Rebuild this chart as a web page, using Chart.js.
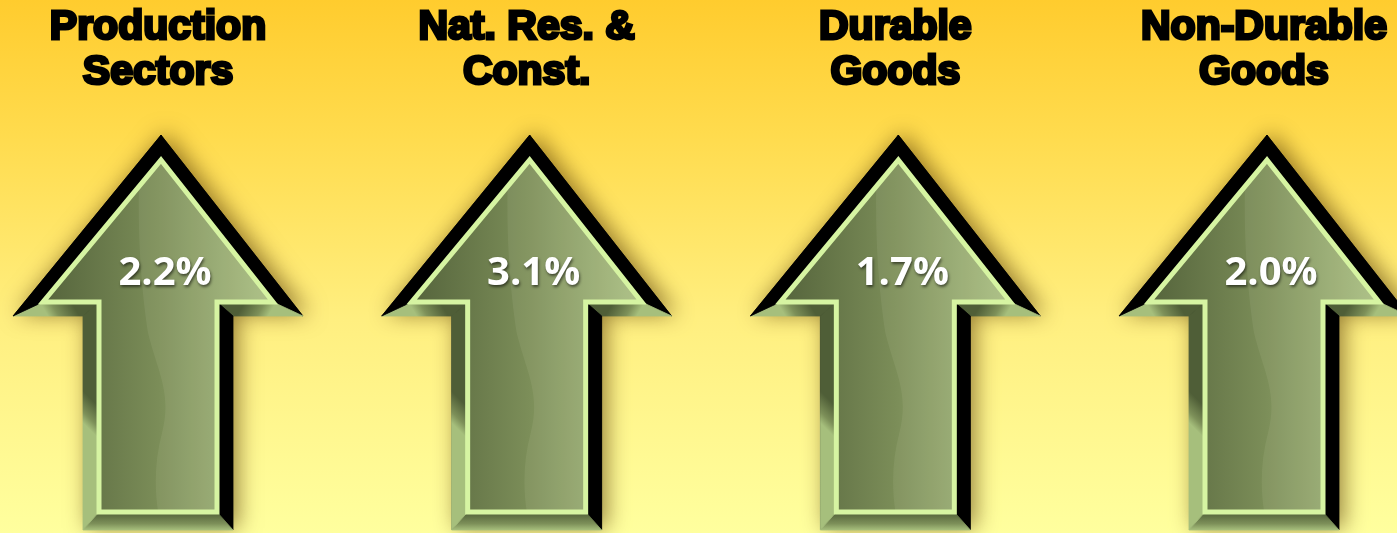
<!DOCTYPE html>
<html lang="en">
<head>
    <meta charset="UTF-8">
    <title>Production sectors</title>
    <style>
        body { margin: 0; background: #ffe066; }
        canvas { display: block; }
    </style>
</head>
<body>
    <canvas id="myChart" width="1397" height="533"></canvas>

    <script src="https://cdn.jsdelivr.net/npm/chart.js@4"></script>
    <script>
        const categories = [
            ['Production', 'Sectors'],
            ['Nat. Res. &', 'Const.'],
            ['Durable', 'Goods'],
            ['Non-Durable', 'Goods']
        ]
        const growth = [2.2, 3.1, 1.7, 2.0]
        const valueLabels = growth.map(v => v.toFixed(1) + '%')

        // arrow outline, points measured up from the bottom of the chart area
        function arrowPoints(cx, tipY, baseY, botY, hw, sw) {
            return [
                [cx + 3, tipY],
                [cx + hw, baseY],
                [cx + sw, baseY],
                [cx + sw, botY],
                [cx - sw, botY],
                [cx - sw, baseY],
                [cx - hw, baseY]
            ]
        }

        function tracePath(ctx, pts) {
            ctx.beginPath()
            ctx.moveTo(pts[0][0], pts[0][1])
            for (let i = 1; i < pts.length; i++) ctx.lineTo(pts[i][0], pts[i][1])
            ctx.closePath()
        }

        // which bevel edges are lit (green) and which are in shade (black)
        const litEdges = [false, true, false, true, true, true, false]

        function drawArrow(ctx, cx, b, label) {
            const outer = arrowPoints(cx, b - 398, b - 217, b - 3, 145, 75)
            const inner = arrowPoints(cx, b - 373, b - 231, b - 21, 115, 59)

            ctx.save()
            ctx.shadowColor = 'rgba(80, 50, 0, 0.6)'
            ctx.shadowBlur = 22
            ctx.shadowOffsetX = 5
            ctx.shadowOffsetY = -2
            tracePath(ctx, outer)
            ctx.fillStyle = '#000'
            ctx.fill()
            ctx.restore()

            for (let i = 0; i < outer.length; i++) {
                const j = (i + 1) % outer.length
                ctx.beginPath()
                ctx.moveTo(outer[i][0], outer[i][1])
                ctx.lineTo(outer[j][0], outer[j][1])
                ctx.lineTo(inner[j][0], inner[j][1])
                ctx.lineTo(inner[i][0], inner[i][1])
                ctx.closePath()
                if (litEdges[i]) {
                    const ox = (outer[i][0] + outer[j][0]) / 2, oy = (outer[i][1] + outer[j][1]) / 2
                    const ix = (inner[i][0] + inner[j][0]) / 2, iy = (inner[i][1] + inner[j][1]) / 2
                    const g = ctx.createLinearGradient(ox, oy, ix, iy)
                    g.addColorStop(0, '#a6bf7c')
                    g.addColorStop(0.35, '#7d9059')
                    g.addColorStop(1, '#4f5e37')
                    ctx.fillStyle = g
                } else {
                    ctx.fillStyle = '#000'
                }
                ctx.fill()
                ctx.strokeStyle = ctx.fillStyle
                ctx.lineWidth = 0.8
                ctx.stroke()
            }

            // face
            const face = ctx.createLinearGradient(cx - 115, 0, cx + 115, 0)
            face.addColorStop(0, '#55643c')
            face.addColorStop(0.5, '#7b8d58')
            face.addColorStop(1, '#aabf83')
            tracePath(ctx, inner)
            ctx.fillStyle = face
            ctx.fill()

            ctx.save()
            tracePath(ctx, inner)
            ctx.clip()
            ctx.beginPath()
            ctx.moveTo(cx - 18, b - 380)
            ctx.bezierCurveTo(cx - 22, b - 300, cx - 16, b - 240, cx - 10, b - 200)
            ctx.bezierCurveTo(cx, b - 160, cx + 14, b - 140, cx + 4, b - 100)
            ctx.bezierCurveTo(cx - 4, b - 70, cx - 4, b - 40, cx + 2, b - 10)
            ctx.lineTo(cx + 200, b - 10)
            ctx.lineTo(cx + 200, b - 380)
            ctx.closePath()
            ctx.fillStyle = 'rgba(255, 255, 230, 0.07)'
            ctx.fill()
            ctx.restore()

            tracePath(ctx, inner)
            ctx.lineJoin = 'miter'
            ctx.lineWidth = 5
            ctx.strokeStyle = '#d6f4a2'
            ctx.stroke()

            ctx.save()
            ctx.font = 'bold 40px "Open Sans"'
            ctx.textAlign = 'center'
            ctx.textBaseline = 'middle'
            ctx.shadowColor = 'rgba(0, 0, 0, 0.55)'
            ctx.shadowBlur = 3
            ctx.shadowOffsetX = 1
            ctx.shadowOffsetY = 2
            ctx.fillStyle = '#fff'
            ctx.fillText(label, cx + 7, b - 259)
            ctx.restore()
        }

        const arrowPlugin = {
            id: 'arrows',
            beforeDraw(chart) {
                const ctx = chart.ctx
                const g = ctx.createLinearGradient(0, 0, 0, chart.height)
                g.addColorStop(0, '#ffcc2e')
                g.addColorStop(0.25, '#ffdb4d')
                g.addColorStop(0.6, '#ffef80')
                g.addColorStop(1, '#ffff9e')
                ctx.save()
                ctx.fillStyle = g
                ctx.fillRect(0, 0, chart.width, chart.height)
                ctx.restore()
            },
            afterDatasetsDraw(chart) {
                const ctx = chart.ctx
                const b = chart.chartArea.bottom
                chart.getDatasetMeta(0).data.forEach((bar, i) => {
                    drawArrow(ctx, bar.x, b, valueLabels[i])
                })
            }
        }

        const ctx = document.getElementById('myChart').getContext('2d')
        const chart = new Chart(ctx, {
            type: 'bar',
            data: {
                labels: categories,
                datasets: [{
                    label: 'Growth',
                    data: growth,
                    backgroundColor: 'rgba(0,0,0,0)',
                    borderWidth: 0
                }]
            },
            options: {
                responsive: false,
                animation: false,
                events: [],
                layout: { padding: { left: 158, right: 133, top: 5, bottom: 0 } },
                plugins: {
                    legend: { display: false },
                    tooltip: { enabled: false }
                },
                scales: {
                    x: {
                        position: 'top',
                        offset: false,
                        grid: { display: false },
                        border: { display: false },
                        ticks: {
                            autoSkip: false,
                            maxRotation: 0,
                            padding: 0,
                            color: '#000',
                            textStrokeColor: '#000',
                            textStrokeWidth: 3,
                            font: { family: '"Liberation Sans", Arial, sans-serif', weight: 'bold', size: 41, lineHeight: 1.1 }
                        }
                    },
                    y: { display: false, min: 0, max: 4 }
                }
            },
            plugins: [arrowPlugin]
        })
    </script>
</body>
</html>
